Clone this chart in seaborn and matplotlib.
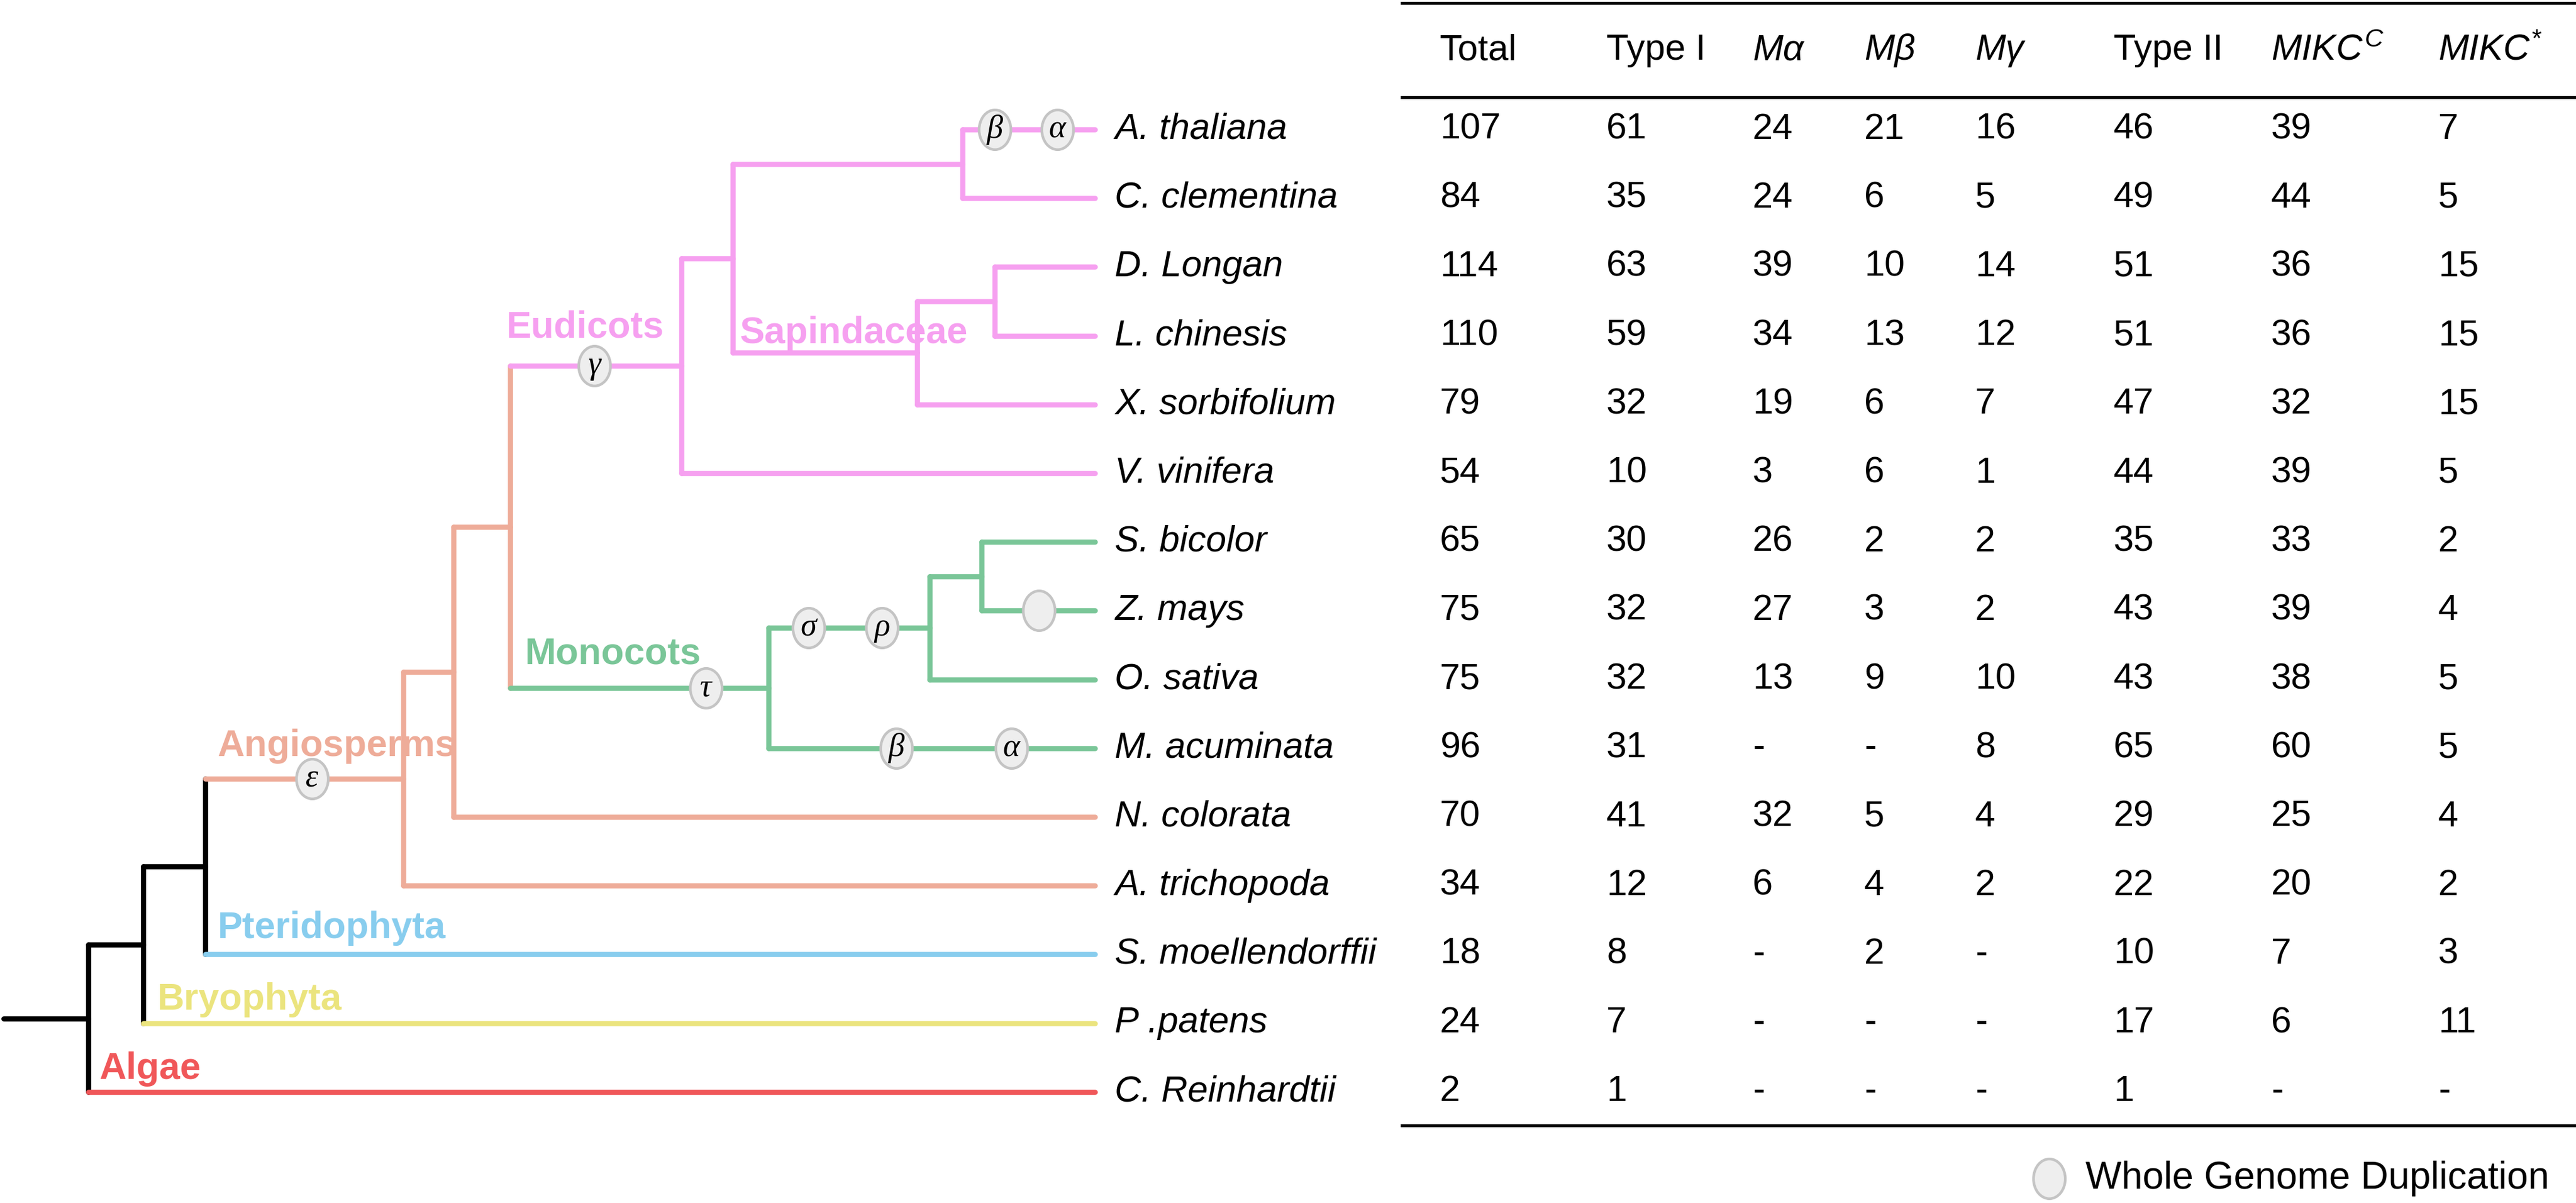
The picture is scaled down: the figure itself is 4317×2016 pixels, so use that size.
import matplotlib
matplotlib.use("Agg")
import matplotlib.pyplot as plt
from matplotlib.markers import MarkerStyle
from matplotlib.path import Path
from matplotlib.transforms import Affine2D
import numpy as np
import pandas as pd
import seaborn as sns

# ---- data ----
species = ["A. thaliana", "C. clementina", "D. Longan", "L. chinesis", "X. sorbifolium",
           "V. vinifera", "S. bicolor", "Z. mays", "O. sativa", "M. acuminata",
           "N. colorata", "A. trichopoda", "S. moellendorffii", "P .patens", "C. Reinhardtii"]
species_clade = ["Eudicots"] * 6 + ["Monocots"] * 4 + ["Angiosperms"] * 2 + \
                ["Pteridophyta", "Bryophyta", "Algae"]

total    = ["107", "84", "114", "110", "79", "54", "65", "75", "75", "96", "70", "34", "18", "24", "2"]
type_1   = ["61", "35", "63", "59", "32", "10", "30", "32", "32", "31", "41", "12", "8", "7", "1"]
m_alpha  = ["24", "24", "39", "34", "19", "3", "26", "27", "13", "-", "32", "6", "-", "-", "-"]
m_beta   = ["21", "6", "10", "13", "6", "6", "2", "3", "9", "-", "5", "4", "2", "-", "-"]
m_gamma  = ["16", "5", "14", "12", "7", "1", "2", "2", "10", "8", "4", "2", "-", "-", "-"]
type_2   = ["46", "49", "51", "51", "47", "44", "35", "43", "43", "65", "29", "22", "10", "17", "1"]
mikc_c   = ["39", "44", "36", "36", "32", "39", "33", "39", "38", "60", "25", "20", "7", "6", "-"]
mikc_s   = ["7", "5", "15", "15", "15", "5", "2", "4", "5", "5", "4", "2", "3", "11", "-"]
headers  = ["Total", "Type I", "Mα", "Mβ", "Mγ", "Type II", r"$MIKC^{C}$", r"$MIKC^{*}$"]
header_italic = [False, False, True, True, True, False, False, False]

# tree topology (internal nodes) and estimated node depths
node_names = ["root", "n_bryo", "n_pter", "angio", "n_nymph", "n_me", "eudicots",
              "n_core", "n_ara", "sapind", "n_dl", "monocots", "n_grass", "n_sz"]
node_depth = [148, 240, 344, 676, 760, 855, 1142, 1228, 1613, 1537, 1667, 1288, 1558, 1645]
node_children = [["n_bryo", "C. Reinhardtii"], ["n_pter", "P .patens"],
                 ["angio", "S. moellendorffii"], ["n_nymph", "A. trichopoda"],
                 ["n_me", "N. colorata"], ["eudicots", "monocots"],
                 ["n_core", "V. vinifera"], ["n_ara", "sapind"],
                 ["A. thaliana", "C. clementina"], ["n_dl", "X. sorbifolium"],
                 ["D. Longan", "L. chinesis"], ["n_grass", "M. acuminata"],
                 ["n_sz", "O. sativa"], ["S. bicolor", "Z. mays"]]
node_clade = ["Backbone", "Backbone", "Backbone", "Angiosperms", "Angiosperms", "Angiosperms",
              "Eudicots", "Eudicots", "Eudicots", "Eudicots", "Eudicots",
              "Monocots", "Monocots", "Monocots"]
tip_depth = 1835
root_start = 6

# whole genome duplications: branch they sit on, depth, symbol
wgd_branch = ["angio", "eudicots", "A. thaliana", "A. thaliana", "monocots",
              "n_grass", "n_grass", "Z. mays", "M. acuminata", "M. acuminata"]
wgd_depth = [523, 996, 1667, 1772, 1183, 1355, 1478, 1741, 1502, 1695]
wgd_symbol = ["ε", "γ", "β", "α", "τ", "σ", "ρ", "", "β", "α"]

clade_labels = ["Algae", "Bryophyta", "Pteridophyta", "Angiosperms", "Eudicots", "Sapindaceae", "Monocots"]
clade_label_colour = ["Algae", "Bryophyta", "Pteridophyta", "Angiosperms", "Eudicots", "Eudicots", "Monocots"]

palette = {"Backbone": "#000000", "Algae": "#f05759", "Bryophyta": "#ebe47e",
           "Pteridophyta": "#88cdee", "Angiosperms": "#eeac99", "Eudicots": "#f6a0f0",
           "Monocots": "#7ac698"}

# ---- style ----
sns.set_style("white")
plt.rcParams["font.family"] = ["Liberation Sans", "DejaVu Sans"]
plt.rcParams["text.color"] = "black"
plt.rcParams["mathtext.fontset"] = "custom"
plt.rcParams["mathtext.it"] = "Liberation Sans:italic"
plt.rcParams["mathtext.rm"] = "Liberation Sans"

fig = plt.figure(figsize=(43.17, 20.16), dpi=100)
ax = fig.add_axes([0, 0, 1, 1])

# ---- tree layout ----
ypos = {s: i for i, s in enumerate(species)}
xpos = {s: tip_depth for s in species}
xpos.update(dict(zip(node_names, node_depth)))
kids = dict(zip(node_names, node_children))
clade_of = dict(zip(species, species_clade))
clade_of.update(dict(zip(node_names, node_clade)))


def place(n):
    if n not in ypos:
        ypos[n] = np.mean([place(c) for c in kids[n]])
    return ypos[n]


place("root")

segs = []


def add_seg(x0, y0, x1, y1, clade):
    k = len(segs) // 2
    segs.append(dict(seg=k, x=x0, y=y0, clade=clade))
    segs.append(dict(seg=k, x=x1, y=y1, clade=clade))


add_seg(root_start, ypos["root"], xpos["root"], ypos["root"], "Backbone")
for n in node_names:
    ys = [ypos[c] for c in kids[n]]
    add_seg(xpos[n], min(ys), xpos[n], max(ys), clade_of[n])
    for c in kids[n]:
        add_seg(xpos[n], ypos[c], xpos[c], ypos[c], clade_of[c])
seg_df = pd.DataFrame(segs)

sns.lineplot(data=seg_df, x="x", y="y", hue="clade", units="seg", estimator=None,
             sort=False, palette=palette, linewidth=6.2, legend=False,
             solid_capstyle="round", ax=ax, zorder=2)

# WGD ellipses
ell = MarkerStyle(Path.unit_circle().transformed(Affine2D().scale(0.8, 1.0)))
wgd_df = pd.DataFrame({"x": wgd_depth, "y": [ypos[b] for b in wgd_branch], "sym": wgd_symbol})
sns.scatterplot(data=wgd_df, x="x", y="y", marker=ell, s=2300, color="#eeeeee",
                edgecolor="#c4c4c4", linewidth=3.2, legend=False, ax=ax, zorder=3)
for _, r in wgd_df.iterrows():
    ax.text(r.x, r.y, r.sym, ha="center", va="center", fontsize=39,
            family="Liberation Serif", style="italic", zorder=4)

# clade names
label_xy = [(166, 13.67), (264, 12.66), (365, 11.62), (364, 8.97),
            (849, 2.88), (1239, 2.96), (880, 7.63)]
for name, col, (lx, ly) in zip(clade_labels, clade_label_colour, label_xy):
    ax.text(lx, ly, name, color=palette[col], fontsize=45, fontweight="bold",
            ha="left", va="center", zorder=5)

# species names
for s in species:
    ax.text(1868, ypos[s], s, fontsize=44, style="italic", ha="left", va="center")

# ---- table ----
col_x = [2413, 2692, 2937, 3124, 3310, 3542, 3806, 4086]
columns = [total, type_1, m_alpha, m_beta, m_gamma, type_2, mikc_c, mikc_s]
header_y = -1.15
for cx, h, it in zip(col_x, headers, header_italic):
    ax.text(cx, header_y, h, fontsize=44, style="italic" if it else "normal",
            ha="left", va="center")
for cx, vals in zip(col_x, columns):
    for i, v in enumerate(vals):
        ax.text(cx, i, v, fontsize=44, ha="left", va="center")
for ly in [-1.84, -0.47, 14.49]:
    ax.plot([2347, 4317], [ly, ly], color="black", linewidth=3.6, solid_capstyle="butt")

# legend
ax.scatter([3434], [15.26], marker=ell, s=2300, color="#eeeeee", edgecolor="#c4c4c4", linewidth=3.2)
ax.text(3495, 15.26, "Whole Genome Duplication", fontsize=46, ha="left", va="center")

ax.set_xlim(0, 4317)
ax.set_ylim(15.616, -1.884)
ax.set_axis_off()

fig.savefig("out.png", dpi=100, facecolor="white")
